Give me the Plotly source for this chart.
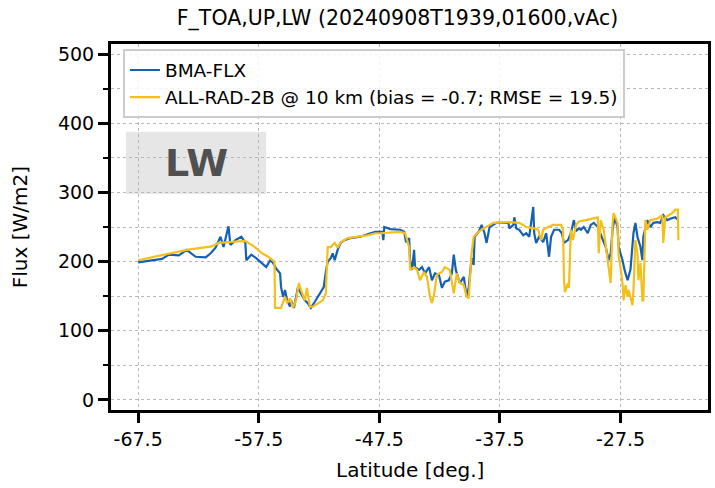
import plotly.graph_objects as go

# Latitude [deg.] and upwelling LW flux at TOA [W/m2]
bma_lat = [-67.5, -66.6, -65.52, -64.95, -64.13, -63.47, -62.73, -61.9, -61.49, -61.08,
           -60.67, -60.42, -60.01, -59.85, -59.43, -58.94, -58.61, -58.53, -58.12, -57.71,
           -57.13, -56.88, -56.55, -56.31, -56.06, -55.73, -55.65, -55.48, -55.32, -55.15,
           -54.91, -54.83, -54.58, -54.25, -54.0, -53.67, -53.43, -53.18, -52.85, -52.6,
           -52.36, -52.11, -51.94, -51.78, -51.53, -51.37, -51.2, -50.96, -50.71, -50.38,
           -49.89, -49.06, -48.24, -47.83, -47.25, -47.17, -47.09, -46.59, -45.77, -45.44,
           -45.28, -45.03, -44.95, -44.78, -44.62, -44.54, -44.21, -43.96, -43.71, -43.38,
           -43.14, -42.89, -42.56, -42.31, -42.07, -41.74, -41.49, -41.33, -41.16, -40.83,
           -40.5, -40.26, -40.09, -39.85, -39.68, -39.6, -39.27, -39.02, -38.78, -38.61,
           -38.36, -37.79, -37.21, -36.8, -36.72, -36.39, -36.31, -36.14, -35.9, -35.57,
           -35.32, -35.07, -34.74, -34.66, -34.5, -34.25, -33.92, -33.67, -33.43, -33.26,
           -33.01, -32.6, -32.36, -32.19, -31.86, -31.62, -31.37, -31.2, -30.96, -30.79,
           -30.55, -30.22, -29.97, -29.72, -29.39, -28.98, -28.73, -28.49, -28.32, -28.16,
           -27.99, -27.75, -27.66, -27.34, -27.17, -26.92, -26.68, -26.43, -26.27, -26.1,
           -25.85, -25.69, -25.61, -25.28, -25.03, -24.78, -24.45, -24.21, -23.96, -23.63,
           -23.38, -22.97, -22.73]
bma_flux = [199, 201, 204, 210, 209, 217, 207, 206, 212, 220,
            236, 221, 251, 224, 231, 236, 227, 202, 210, 205,
            195, 192, 202, 198, 190, 183, 163, 149, 159, 144,
            135, 144, 133, 163, 154, 144, 140, 133, 142, 149,
            156, 163, 185, 200, 205, 212, 202, 217, 227, 231,
            234, 236, 241, 243, 243, 231, 250, 247, 246, 243,
            228, 234, 202, 188, 217, 192, 188, 192, 183, 192,
            173, 183, 181, 162, 171, 173, 183, 210, 188, 169,
            178, 149, 163, 205, 195, 236, 243, 253, 241, 227,
            250, 256, 256, 256, 248, 253, 264, 248, 246, 238,
            241, 236, 279, 241, 227, 236, 228, 241, 207, 236,
            246, 246, 241, 227, 231, 241, 260, 244, 248, 246,
            250, 241, 253, 256, 250, 231, 221, 202, 212, 246,
            264, 250, 221, 202, 188, 173, 188, 241, 256, 236,
            221, 202, 236, 260, 250, 256, 257, 256, 267, 260,
            262, 264, 260]

rad_lat = [-67.5, -63.47, -61.4, -60.83, -60.01, -58.64, -57.81, -57.23, -56.72, -56.31,
           -56.2, -56.14, -55.65, -55.32, -55.15, -54.91, -54.66, -54.41, -54.17, -54.0,
           -53.67, -53.51, -53.26, -53.01, -52.6, -52.19, -51.94, -51.78, -51.53, -51.2,
           -50.96, -50.71, -50.13, -49.06, -48.49, -47.83, -47.42, -45.77, -45.36, -45.03,
           -44.95, -44.62, -44.37, -44.13, -43.8, -43.55, -43.3, -43.14, -42.97, -42.73,
           -42.31, -42.07, -41.66, -41.33, -41.08, -40.83, -40.5, -40.26, -40.09, -39.85,
           -39.68, -39.27, -38.86, -38.03, -36.72, -35.9, -35.32, -34.66, -34.33, -34.08,
           -33.92, -33.51, -33.1, -32.44, -32.27, -32.19, -32.11, -31.86, -31.78, -31.62,
           -31.45, -31.2, -30.96, -30.38, -29.8, -29.39, -29.31, -29.15, -28.9, -28.57,
           -28.32, -28.16, -28.08, -27.75, -27.66, -27.5, -27.34, -27.25, -27.09, -26.92,
           -26.84, -26.51, -26.43, -26.27, -26.1, -26.02, -25.85, -25.69, -25.61, -25.44,
           -25.28, -25.03, -24.45, -24.04, -23.96, -23.8, -23.22, -22.97, -22.75, -22.7]
rad_flux = [202, 217, 222, 227, 228, 230, 221, 212, 207, 202,
            200, 133, 133, 149, 140, 147, 133, 144, 169, 159,
            144, 162, 135, 135, 140, 144, 154, 221, 221, 227,
            220, 228, 234, 236, 238, 241, 241, 243, 241, 221,
            188, 192, 188, 173, 185, 178, 149, 140, 152, 181,
            185, 192, 188, 154, 183, 169, 166, 149, 147, 212,
            236, 243, 248, 256, 257, 256, 250, 248, 246, 231,
            246, 250, 253, 253, 246, 173, 156, 169, 162, 246,
            231, 253, 258, 260, 263, 264, 212, 260, 246, 198,
            169, 256, 270, 256, 207, 192, 169, 144, 166, 149,
            159, 137, 159, 231, 212, 173, 198, 144, 144, 260,
            246, 260, 262, 267, 227, 264, 270, 275, 275, 231]

x_ticks = [-67.5, -57.5, -47.5, -37.5, -27.5]
y_ticks = [0, 100, 200, 300, 400, 500]

FONT = "DejaVu Sans"
BLUE = "#1660b4"
GOLD = "#f5bf1a"

fig = go.Figure()
fig.add_trace(go.Scatter(x=bma_lat, y=bma_flux, mode="lines", name="BMA-FLX",
                         line=dict(color=BLUE, width=2.2)))
fig.add_trace(go.Scatter(x=rad_lat, y=rad_flux, mode="lines",
                         name="ALL-RAD-2B @ 10 km (bias = -0.7; RMSE = 19.5)",
                         line=dict(color=GOLD, width=2.2)))

grid = dict(showgrid=True, gridcolor="#b8b8b8", griddash="dot", gridwidth=1)
axis_common = dict(ticks="outside", ticklen=10, tickwidth=2.5, tickcolor="black",
                   showline=True, mirror=True, linewidth=3, linecolor="black",
                   zeroline=False, tickfont=dict(family=FONT, size=19, color="black"),
                   **grid)
fig.update_xaxes(range=[-69.75, -20.25], tickvals=x_ticks,
                 ticktext=[f"{v:.1f}" for v in x_ticks], **axis_common)
fig.update_yaxes(range=[-14.5, 514.5], tickvals=y_ticks,
                 minor=dict(dtick=50, ticks="outside", ticklen=5, tickwidth=1.5,
                            tickcolor="black", showgrid=True, gridcolor="#b8b8b8",
                            griddash="dot", gridwidth=1),
                 **axis_common)

# Shaded band label in the upper-left corner
fig.add_shape(type="rect", xref="paper", yref="paper", x0=0.025, x1=0.26,
              y0=0.59, y1=0.76, fillcolor="#e6e6e6", line=dict(width=0), layer="below")
fig.add_annotation(xref="paper", yref="paper", x=0.1425, y=0.675, text="<b>LW</b>",
                   xanchor="center", yanchor="middle", showarrow=False,
                   font=dict(family=FONT, size=38, color="#505050"))

fig.add_annotation(xref="paper", yref="paper", x=0.5, y=-0.164, text="Latitude [deg.]",
                   xanchor="center", yanchor="middle", showarrow=False,
                   font=dict(family=FONT, size=20, color="black"))
fig.add_annotation(xref="paper", yref="paper", x=-0.152, y=0.5, text="Flux [W/m2]",
                   xanchor="center", yanchor="middle", textangle=-90, showarrow=False,
                   font=dict(family=FONT, size=20, color="black"))

fig.update_layout(
    width=715, height=488,
    margin=dict(l=111, r=4, t=44, b=78),
    plot_bgcolor="white", paper_bgcolor="white",
    title=dict(text="F_TOA,UP,LW (20240908T1939,01600,vAc)", x=0.556, xanchor="center",
               y=0.963, yanchor="middle",
               font=dict(family=FONT, size=20.5, color="black")),
    legend=dict(x=0.02, y=0.985, xanchor="left", yanchor="top",
                bgcolor="rgba(255,255,255,0.85)", bordercolor="#cccccc", borderwidth=2,
                font=dict(family=FONT, size=18.5, color="black")),
    showlegend=True,
)

fig.write_html("out.html")
